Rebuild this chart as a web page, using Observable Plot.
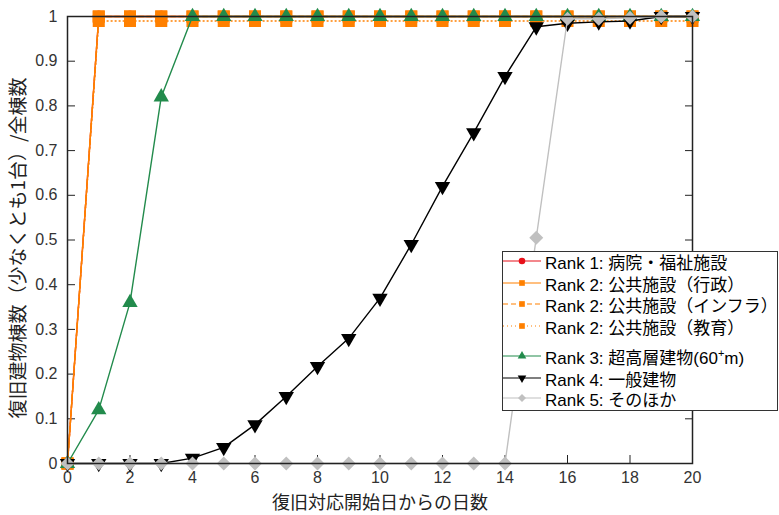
<!DOCTYPE html>
<html>
<head>
<meta charset="utf-8">
<script src="https://cdn.jsdelivr.net/npm/d3@7"></script>
<script src="https://cdn.jsdelivr.net/npm/@observablehq/plot@0.6"></script>
<style>
  body { margin: 0; background: #fff; }
  #wrap { position: relative; width: 779px; height: 515px; font-family: "Liberation Sans", "Noto Sans CJK JP", sans-serif; }
  #legend { position: absolute; left: 502px; top: 251px; width: 276px; height: 160px; border: 1px solid #333; background: #fff; box-sizing: border-box; }
  .row { position: absolute; left: 0; height: 20px; display: flex; align-items: center; white-space: nowrap; font-size: 17px; color: #000; }
  .row svg { flex: none; }
  .row span { margin-left: 2px; }
</style>
</head>
<body>
<div id="wrap"></div>
<script>
const days = d3.range(0, 21);
const seriesNames = [
  "Rank 1: 病院・福祉施設",
  "Rank 2: 公共施設（行政）",
  "Rank 2: 公共施設（インフラ）",
  "Rank 2: 公共施設（教育）",
  "Rank 3: 超高層建物(60⁺m)",
  "Rank 4: 一般建物",
  "Rank 5: そのほか"
];
const rank1   = [0,1,1,1,1,1,1,1,1,1,1,1,1,1,1,1,1,1,1,1,1];
const gyosei  = [0,1,1,1,1,1,1,1,1,1,1,1,1,1,1,1,1,1,1,1,1];
const infra   = [0,1,1,1,1,1,1,1,1,1,1,1,1,1,1,1,1,1,1,1,1];
const kyoiku  = [0,0.99,0.99,0.99,0.99,0.99,0.99,0.99,0.99,0.99,0.99,0.99,0.99,0.99,0.99,0.99,0.99,0.99,0.99,0.99,0.99];
const rank3   = [0,0.12,0.36,0.82,1,1,1,1,1,1,1,1,1,1,1,1,1,1,1,1,1];
const rank4   = [0,0,0,0,0.012,0.036,0.087,0.15,0.217,0.28,0.37,0.49,0.62,0.74,0.866,0.977,0.985,0.988,0.99,1,1];
const rank5   = [0,0,0,0,0,0,0,0,0,0,0,0,0,0,0,0.505,0.995,0.995,0.997,1,1];
const xTicks = [0,2,4,6,8,10,12,14,16,18,20];
const yTicks = [0,0.1,0.2,0.3,0.4,0.5,0.6,0.7,0.8,0.9,1];
const yTickLabels = ["0","0.1","0.2","0.3","0.4","0.5","0.6","0.7","0.8","0.9","1"];
const xLabel = "復旧対応開始日からの日数";
const yLabel = "復旧建物棟数（少なくとも1台）/全棟数";

const styles = [
  {values: rank1,  color: "#e8111a", dash: null,  symbol: "circle",   r: 6,   rotate: 0,   lw: 1.4},
  {values: gyosei, color: "#ff8000", dash: null,  symbol: "square",   r: 6.8, rotate: 0,   lw: 1.4},
  {values: infra,  color: "#ff8000", dash: "5,3", symbol: "square",   r: 6.8, rotate: 0,   lw: 1.4},
  {values: kyoiku, color: "#ff8000", dash: "1,3", symbol: "square",   r: 6.8, rotate: 0,   lw: 1.4},
  {values: rank3,  color: "#228b4c", dash: null,  symbol: "triangle", r: 5.7, rotate: 0,   lw: 1.4},
  {values: rank4,  color: "#000000", dash: null,  symbol: "triangle", r: 5.7, rotate: 180, lw: 1.4},
  {values: rank5,  color: "#c0c0c0", dash: null,  symbol: "square",   r: 5.6, rotate: 45,  lw: 1.4}
];

const marks = [];
styles.forEach((s, i) => {
  const data = days.map((d, j) => ({day: d, v: s.values[j]}));
  marks.push(Plot.line(data, {x: "day", y: "v", stroke: s.color, strokeWidth: s.lw, strokeDasharray: s.dash}));
  marks.push(Plot.dot(data, {x: "day", y: "v", symbol: s.symbol, r: s.r, fill: s.color, stroke: "none", rotate: s.rotate}));
});

const chart = Plot.plot({
  width: 779,
  height: 515,
  marginLeft: 67,
  marginRight: 87,
  marginTop: 16,
  marginBottom: 52,
  style: {fontFamily: "Liberation Sans, Noto Sans CJK JP, sans-serif", background: "#fff"},
  x: {domain: [0, 20]},
  y: {domain: [0, 1]},
  marks: [
    Plot.axisX({ticks: xTicks, tickSize: 0, tickPadding: 8, fontSize: 16, color: "#333", label: null}),
    Plot.axisX({ticks: xTicks, tickSize: -8, text: null, label: null, stroke: "#222"}),
    Plot.axisX({anchor: "top", ticks: xTicks, tickSize: -8, text: null, label: null, stroke: "#222"}),
    Plot.axisY({ticks: yTicks, tickFormat: (d, i) => yTickLabels[i], tickSize: 0, tickPadding: 10, fontSize: 16, color: "#333", label: null}),
    Plot.axisY({ticks: yTicks, tickSize: -8, text: null, label: null, stroke: "#222"}),
    Plot.axisY({anchor: "right", ticks: yTicks, tickSize: -8, text: null, label: null, stroke: "#222"}),
    ...marks,
    Plot.frame({stroke: "#222", strokeWidth: 1.5}),
    Plot.text([xLabel], {frameAnchor: "bottom", dy: 40, lineAnchor: "middle", textAnchor: "middle", fontSize: 18, fill: "#222", fontFamily: "Noto Sans CJK JP"}),
    Plot.text([yLabel], {frameAnchor: "left", dx: -49, dy: 8, rotate: -90, lineAnchor: "middle", textAnchor: "middle", fontSize: 19, fill: "#222", fontFamily: "Noto Sans CJK JP"})
  ]
});

const wrap = document.getElementById("wrap");
wrap.appendChild(chart);

// legend
const legend = document.createElement("div");
legend.id = "legend";
const rowTops = [-1, 21, 42, 64, 94, 116, 136];
styles.forEach((s, i) => {
  const row = document.createElement("div");
  row.className = "row";
  row.style.top = rowTops[i] + "px";
  const sv = d3.create("svg").attr("width", 40).attr("height", 20);
  sv.append("line").attr("x1", 0).attr("x2", 38).attr("y1", 10).attr("y2", 10)
    .attr("stroke", s.color).attr("stroke-width", 1.2).attr("stroke-dasharray", s.dash);
  const symMap = {circle: d3.symbolCircle, square: d3.symbolSquare, triangle: d3.symbolTriangle};
  sv.append("path").attr("d", d3.symbol(symMap[s.symbol], s.symbol === "circle" ? 34 : 32)())
    .attr("transform", `translate(19,10) rotate(${s.rotate})`).attr("fill", s.color);
  row.appendChild(sv.node());
  const t = document.createElement("span");
  const name = seriesNames[i];
  if (name.includes("⁺")) {
    const [a, b] = name.split("⁺");
    t.appendChild(document.createTextNode(a));
    const sup = document.createElement("sup");
    sup.textContent = "+";
    sup.style.fontSize = "11px";
    t.appendChild(sup);
    t.appendChild(document.createTextNode(b));
  } else {
    t.textContent = name;
  }
  row.appendChild(t);
  legend.appendChild(row);
});
wrap.appendChild(legend);
</script>
</body>
</html>
